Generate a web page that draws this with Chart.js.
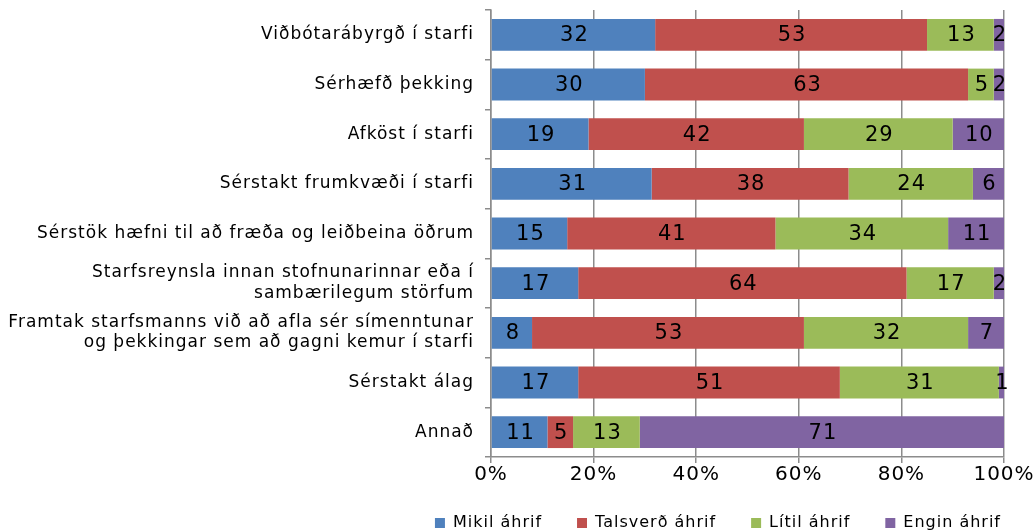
<!DOCTYPE html>
<html>
<head>
<meta charset="utf-8">
<script src="https://cdn.jsdelivr.net/npm/chart.js@4"></script>
<style>
  html, body { margin: 0; padding: 0; background: #fff; }
  #wrap { width: 1036px; height: 532px; }
</style>
</head>
<body>
<div id="wrap"><canvas id="chart" width="1036" height="532"></canvas></div>
<script>
// --- data ---
const categories = [
    'Viðbótarábyrgð í starfi',
    'Sérhæfð þekking',
    'Afköst í starfi',
    'Sérstakt frumkvæði í starfi',
    'Sérstök hæfni til að fræða og leiðbeina öðrum',
    ['Starfsreynsla innan stofnunarinnar eða í', 'sambærilegum störfum'],
    ['Framtak starfsmanns við að afla sér símenntunar', 'og þekkingar sem að gagni kemur í starfi'],
    'Sérstakt álag',
    'Annað'
];
const seriesNames = ['Mikil áhrif', 'Talsverð áhrif', 'Lítil áhrif', 'Engin áhrif'];
const mikil     = [32, 30, 19, 31, 15, 17,  8, 17, 11];
const talsverd  = [53, 63, 42, 38, 41, 64, 53, 51,  5];
const litil     = [13,  5, 29, 24, 34, 17, 32, 31, 13];
const engin     = [ 2,  2, 10,  6, 11,  2,  7,  1, 71];
const xTicks = [0, 20, 40, 60, 80, 100];

const colors = ['#4F81BD', '#C0504D', '#9BBB59', '#8064A2'];
const FONT = "'DejaVu Sans', Verdana, sans-serif";

// 100% stacked: share of each row total, label keeps the raw value
const raw = [mikil, talsverd, litil, engin];
const rowSum = categories.map((c, i) => raw.reduce((s, arr) => s + arr[i], 0));

const datasets = raw.map((arr, k) => ({
    label: seriesNames[k],
    data: arr.map((v, i) => v / rowSum[i] * 100),
    rawValues: arr,
    backgroundColor: colors[k],
    borderWidth: 0,
    barPercentage: 0.64,
    categoryPercentage: 1.0
}));

// Verdana-like spacing + legend placement
const tweaks = {
    id: 'tweaks',
    beforeUpdate(chart) { chart.ctx.letterSpacing = '1px'; },
    beforeDraw(chart) { chart.ctx.letterSpacing = '1px'; },
    beforeLayout(chart) {
        const lg = chart.legend;
        if (lg && !lg._patched) {
            const orig = lg.fit;
            lg.fit = function () { orig.call(this); this.height = 25; };
            lg._patched = true;
        }
    },
    afterLayout(chart) {
        // wide item spacing, but keep the row near the bottom
        chart.legend.top = 480;
    }
};

// --- value labels in the middle of each segment ---
const valueLabels = {
    id: 'valueLabels',
    afterDatasetsDraw(chart) {
        const ctx = chart.ctx;
        ctx.save();
        ctx.font = '21px ' + FONT;
        ctx.fillStyle = '#000';
        ctx.textAlign = 'center';
        ctx.textBaseline = 'middle';
        chart.data.datasets.forEach((ds, k) => {
            chart.getDatasetMeta(k).data.forEach((bar, i) => {
                const p = bar.getProps(['x', 'y', 'base'], true);
                ctx.fillText(String(ds.rawValues[i]), (p.x + p.base) / 2 + 1, p.y + 1);
            });
        });
        ctx.restore();
    }
};

new Chart(document.getElementById('chart'), {
    type: 'bar',
    data: { labels: categories, datasets: datasets },
    options: {
        indexAxis: 'y',
        responsive: false,
        animation: false,
        layout: { padding: { top: 10, right: 0, left: 0, bottom: 0 } },
        plugins: {
            tooltip: { enabled: false },
            legend: {
                position: 'bottom',
                align: 'end',
                labels: {
                    boxWidth: 10, boxHeight: 10,
                    font: { family: FONT, size: 16 },
                    color: '#000',
                    padding: 35
                }
            }
        },
        scales: {
            x: {
                stacked: true,
                min: 0, max: 100,
                afterBuildTicks: s => { s.ticks = xTicks.map(v => ({ value: v })); },
                afterFit: s => { s.height = 50; s.paddingRight = 32; s.paddingLeft = 0; },
                ticks: {
                    callback: v => v + '%',
                    font: { family: FONT, size: 20 },
                    color: '#000',
                    padding: 0
                },
                grid: { color: '#8c8c8c', lineWidth: 1.5, tickLength: 6, drawOnChartArea: true, z: -1 },
                border: { color: '#8c8c8c', width: 1.5 }
            },
            y: {
                stacked: true,
                afterFit: s => { s.width = 491; s.paddingTop = 0; s.paddingBottom = 0; },
                ticks: {
                    font: { family: FONT, size: 17 },
                    color: '#000',
                    padding: 11,
                    autoSkip: false
                },
                grid: { offset: true, drawOnChartArea: false, tickLength: 6, color: '#8c8c8c', lineWidth: 1.5 },
                border: { color: '#8c8c8c', width: 1.5 }
            }
        }
    },
    plugins: [tweaks, valueLabels]
});
</script>
</body>
</html>
